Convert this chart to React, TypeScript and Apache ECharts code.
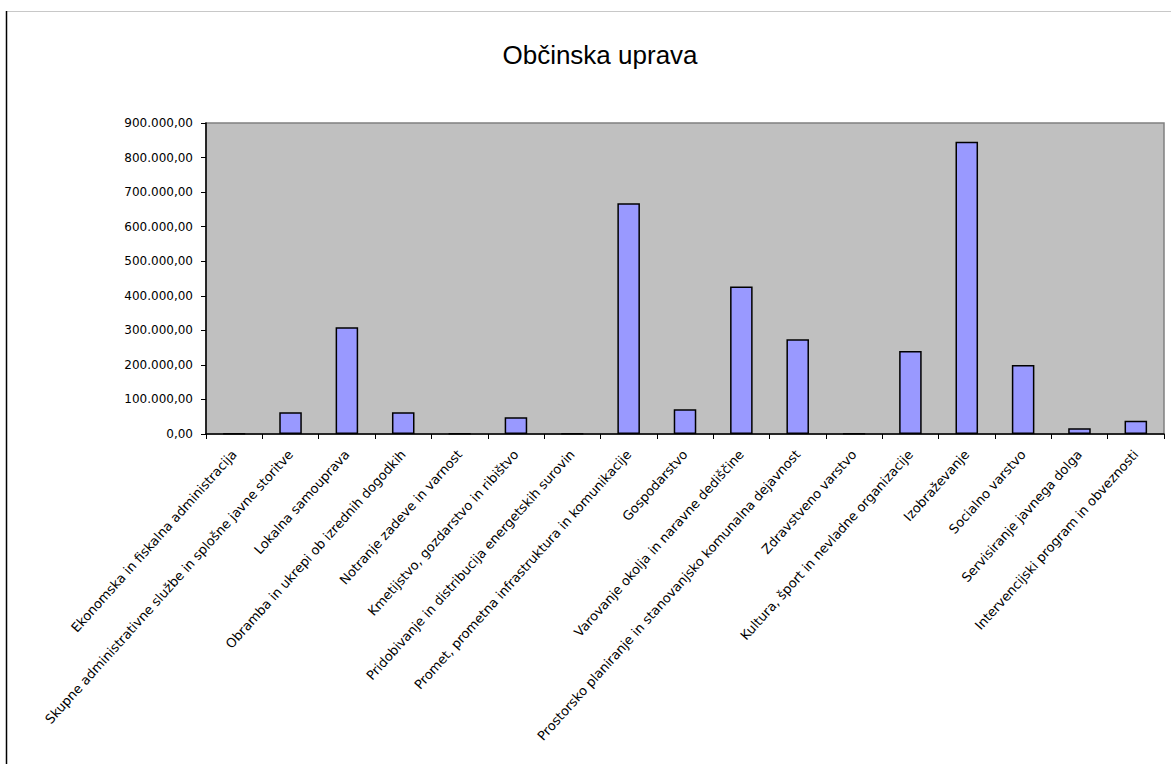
import React, { useEffect, useRef } from "react";
import * as echarts from "echarts";

const categories: string[] = [
  "Ekonomska in fiskalna administracija",
  "Skupne administrativne službe in splošne javne storitve",
  "Lokalna samouprava",
  "Obramba in ukrepi ob izrednih dogodkih",
  "Notranje zadeve in varnost",
  "Kmetijstvo, gozdarstvo in ribištvo",
  "Pridobivanje in distribucija energetskih surovin",
  "Promet, prometna infrastruktura in komunikacije",
  "Gospodarstvo",
  "Varovanje okolja in naravne dediščine",
  "Prostorsko planiranje in stanovanjsko komunalna dejavnost",
  "Zdravstveno varstvo",
  "Kultura, šport in nevladne organizacije",
  "Izobraževanje",
  "Socialno varstvo",
  "Servisiranje javnega dolga",
  "Intervencijski program in obveznosti",
];

const values: number[] = [
  1500, 63000, 309000, 63000, 1500, 48500, 1200, 668000, 71500, 427000,
  274500, 1200, 240500, 846000, 200000, 17000, 38000,
];

const titleText = "Občinska uprava";
const yMin = 0;
const yMax = 900000;
const yStep = 100000;

function fmt(v: number): string {
  const s = Math.round(v).toString().replace(/\B(?=(\d{3})+(?!\d))/g, ".");
  return s + ",00";
}

export default function App() {
  const ref = useRef<HTMLDivElement>(null);
  useEffect(() => {
    if (!ref.current) return;
    const chart = echarts.init(ref.current, undefined, { renderer: "svg" });
    chart.setOption({
      animation: false,
      backgroundColor: "#ffffff",
      title: {
        text: titleText,
        left: 595,
        top: 37,
        textAlign: "center",
        textStyle: {
          fontFamily: "Liberation Sans, Arial, sans-serif",
          fontSize: 26,
          fontWeight: "normal",
          color: "#000",
        },
      },
      graphic: [
        {
          type: "line",
          shape: { x1: 6, y1: 11.5, x2: 1171, y2: 11.5 },
          style: { stroke: "#c8c8c8", lineWidth: 1 },
        },
        {
          type: "line",
          shape: { x1: 6.5, y1: 11, x2: 6.5, y2: 764 },
          style: { stroke: "#000", lineWidth: 1.5 },
        },
      ],
      grid: {
        left: 206,
        top: 123,
        right: 7,
        bottom: 330,
        show: true,
        backgroundColor: "#c0c0c0",
        borderColor: "#808080",
        borderWidth: 1.5,
      },
      xAxis: {
        type: "category",
        data: categories,
        axisLine: { show: true, lineStyle: { color: "#000", width: 1.5 } },
        axisTick: { show: true, length: 5, lineStyle: { color: "#000" } },
        axisLabel: {
          interval: 0,
          rotate: 48,
          margin: 18,
          fontFamily: "DejaVu Sans, Verdana, sans-serif",
          fontSize: 13,
          color: "#000",
        },
      },
      yAxis: {
        type: "value",
        min: yMin,
        max: yMax,
        interval: yStep,
        axisLine: { show: true, lineStyle: { color: "#000", width: 1.5 } },
        axisTick: { show: true, length: 5, lineStyle: { color: "#000" } },
        splitLine: { show: false },
        axisLabel: {
          margin: 13,
          fontFamily: "DejaVu Sans, Verdana, sans-serif",
          fontSize: 12,
          color: "#000",
          formatter: (v: number) => fmt(v),
        },
      },
      series: [
        {
          type: "bar",
          data: values,
          barWidth: "40%",
          itemStyle: {
            color: "#9999ff",
            borderColor: "#000",
            borderWidth: 1.5,
          },
        },
      ],
    });
    return () => chart.dispose();
  }, []);
  return (
    <div
      ref={ref}
      style={{ position: "fixed", left: 0, top: 0, width: 1171, height: 764 }}
    />
  );
}
